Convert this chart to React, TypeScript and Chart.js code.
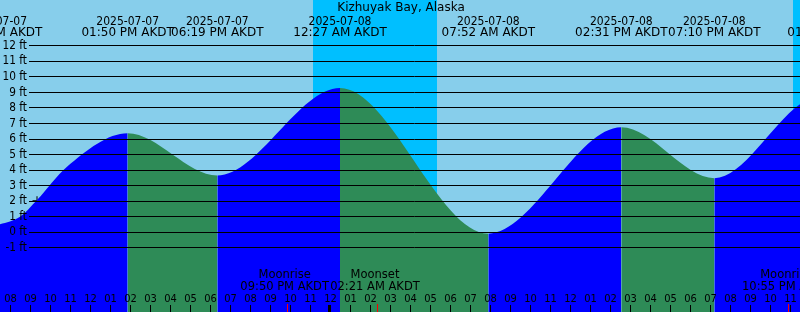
import React, { useEffect, useRef } from "react";
import { Chart, registerables } from "chart.js";

Chart.register(...registerables);

// ---------------- data ----------------
const TITLE = "Kizhuyak Bay, Alaska";

// tide curve (time, height in ft)
const tideDates = ["2025-07-07", "2025-07-07", "2025-07-07", "2025-07-07", "2025-07-07", "2025-07-07", "2025-07-08", "2025-07-08", "2025-07-08", "2025-07-08", "2025-07-08", "2025-07-09", "2025-07-09"];
const tideClock = ["07:14 AM", "08:27 AM", "09:18 AM", "10:48 AM", "01:50 PM", "06:19 PM", "12:27 AM", "07:52 AM", "02:31 PM", "07:10 PM", "11:27 PM", "01:09 AM", "07:40 AM"];
const tideHeights = [0.4, 0.97, 2.05, 4.19, 6.34, 3.62, 9.25, -0.12, 6.72, 3.45, 8.2, 9.35, 0.5];

// high / low tide labels along the top
const eventDates = ["2025-07-07", "2025-07-07", "2025-07-07", "2025-07-08", "2025-07-08", "2025-07-08", "2025-07-08", "2025-07-09"];
const eventTimes = ["07:14 AM AKDT", "01:50 PM AKDT", "06:19 PM AKDT", "12:27 AM AKDT", "07:52 AM AKDT", "02:31 PM AKDT", "07:10 PM AKDT", "01:09 AM AKDT"];

// night bands
const nightStartDates = ["2025-07-07", "2025-07-08"];
const nightStartTimes = ["11:06 PM", "11:06 PM"];
const nightEndDates = ["2025-07-08", "2025-07-09"];
const nightEndTimes = ["05:18 AM", "05:20 AM"];

// moon events
const moonNames = ["Moonrise", "Moonset", "Moonrise"];
const moonDates = ["2025-07-07", "2025-07-08", "2025-07-08"];
const moonTimes = ["09:50 PM AKDT", "02:21 AM AKDT", "10:55 PM AKDT"];

// current-time marker
const markerDate = "2025-07-07";
const markerTime = "09:18 AM";
const markerHeight = 2.0;

// axis labels
const feetValues = [12, 11, 10, 9, 8, 7, 6, 5, 4, 3, 2, 1, 0, -1];
const hourLabels = [
  "08", "09", "10", "11", "12", "01", "02", "03", "04", "05", "06", "07",
  "08", "09", "10", "11", "12", "01", "02", "03", "04", "05", "06", "07",
  "08", "09", "10", "11", "12", "01", "02", "03", "04", "05", "06", "07",
  "08", "09", "10", "11",
];

// ---------------- helpers ----------------
// hours since 2025-07-07 08:00
function toHours(date: string, clock: string): number {
  const day = parseInt(date.slice(8, 10), 10);
  const m = clock.match(/(\d+):(\d+)\s*(AM|PM)/);
  if (!m) return 0;
  let hh = parseInt(m[1], 10) % 12;
  if (m[3] === "PM") hh += 12;
  const mm = parseInt(m[2], 10);
  return (day - 7) * 24 + hh + mm / 60 - 8;
}

const SKY = "#87CEEB";
const NIGHT = "#00BFFF";
const RISE = "#0000FF";
const FALL = "#2E8B57";
const FONT = '"DejaVu Sans", sans-serif';

// draw text squeezed horizontally (narrow face)
function narrowText(ctx: CanvasRenderingContext2D, text: string, x: number, y: number, sx: number) {
  ctx.save();
  ctx.translate(x, y);
  ctx.scale(sx, 1);
  ctx.fillText(text, 0, 0);
  ctx.restore();
}

const decorPlugin = {
  id: "tideDecor",
  beforeDatasetsDraw(chart: any) {
    const { ctx, scales } = chart;
    const x = scales.x;
    ctx.save();
    ctx.fillStyle = SKY;
    ctx.fillRect(0, 0, chart.width, chart.height);
    ctx.fillStyle = NIGHT;
    nightStartDates.forEach((d, i) => {
      const x0 = Math.round(x.getPixelForValue(toHours(d, nightStartTimes[i])));
      const x1 = Math.round(x.getPixelForValue(toHours(nightEndDates[i], nightEndTimes[i])));
      ctx.fillRect(x0, 0, x1 - x0, chart.height);
    });
    ctx.restore();
  },
  afterDatasetsDraw(chart: any) {
    const { ctx, scales } = chart;
    const x = scales.x;
    const y = scales.y;
    const W = chart.width;
    const H = chart.height;
    ctx.save();
    // grid lines
    ctx.strokeStyle = "#000";
    ctx.lineWidth = 1;
    feetValues.forEach((v) => {
      const py = Math.round(y.getPixelForValue(v)) + 0.5;
      ctx.beginPath();
      ctx.moveTo(29, py);
      ctx.lineTo(W, py);
      ctx.stroke();
    });
    ctx.fillStyle = "#000";
    // y labels
    ctx.font = `12px ${FONT}`;
    ctx.textAlign = "right";
    ctx.textBaseline = "middle";
    feetValues.forEach((v) => {
      const py = y.getPixelForValue(v);
      narrowText(ctx, `${v} ft`, 27, py + 0.5, 0.88);
    });
    // title
    ctx.textAlign = "center";
    ctx.textBaseline = "alphabetic";
    ctx.font = `12px ${FONT}`;
    ctx.fillText(TITLE, 401, 11);
    // tide event labels
    eventDates.forEach((d, i) => {
      const px = x.getPixelForValue(toHours(d, eventTimes[i]));
      ctx.font = `12px ${FONT}`;
      narrowText(ctx, d, px, 24.5, 0.9);
      ctx.fillText(eventTimes[i], px, 36);
    });
    // moon labels
    ctx.font = `11.5px ${FONT}`;
    moonNames.forEach((n, i) => {
      const px = x.getPixelForValue(toHours(moonDates[i], moonTimes[i]));
      ctx.fillText(n, px - 3, 278);
      ctx.fillText(moonTimes[i], px - 3, 289.5);
    });
    // hour ticks and labels
    ctx.font = `11px ${FONT}`;
    hourLabels.forEach((lab, h) => {
      const px = Math.round(x.getPixelForValue(h));
      const isMidnight = h % 24 === 16;
      if (isMidnight) ctx.fillRect(px - 3, 305, 3, H - 305);
      else ctx.fillRect(px - 1, 305, 1, H - 305);
      narrowText(ctx, lab, px - 0.5, 302, 0.9);
    });
    // moon ticks
    ctx.fillStyle = "#FF0000";
    moonDates.forEach((d, i) => {
      const px = Math.round(x.getPixelForValue(toHours(d, moonTimes[i])));
      ctx.fillRect(px - 1, 304, 1, H - 304);
    });
    ctx.restore();
  },
};

export default function App() {
  const ref = useRef<HTMLCanvasElement | null>(null);
  useEffect(() => {
    if (!ref.current) return;
    const tidePoints = tideHeights.map((v, i) => ({ x: toHours(tideDates[i], tideClock[i]), y: v }));
    const chart = new Chart(ref.current, {
      type: "line",
      data: {
        datasets: [
          {
            data: tidePoints,
            fill: "start",
            borderColor: "rgba(0,0,0,0)",
            borderWidth: 0,
            backgroundColor: RISE,
            pointRadius: 0,
            cubicInterpolationMode: "monotone",
            segment: {
              backgroundColor: (c: any) => (c.p1.parsed.y >= c.p0.parsed.y ? RISE : FALL),
            },
          } as any,
          {
            data: [{ x: toHours(markerDate, markerTime), y: markerHeight }],
            showLine: false,
            pointStyle: "cross",
            pointRadius: 4.5,
            borderColor: "#000",
            borderWidth: 1,
            backgroundColor: "#000",
          } as any,
        ],
      },
      options: {
        responsive: false,
        animation: false,
        devicePixelRatio: 1,
        layout: { padding: 0, autoPadding: false },
        events: [],
        scales: {
          x: { type: "linear", min: -0.55, max: 39.45, display: false },
          y: { type: "linear", min: -5.16, max: 14.915, display: false },
        },
        plugins: {
          legend: { display: false },
          title: { display: false },
          tooltip: { enabled: false },
        },
      },
      plugins: [decorPlugin],
    });
    return () => chart.destroy();
  }, []);
  return (
    <div style={{ position: "absolute", left: 0, top: 0, width: 800, height: 312, overflow: "hidden" }}>
      <canvas ref={ref} width={800} height={312} style={{ display: "block", width: 800, height: 312 }} />
    </div>
  );
}
